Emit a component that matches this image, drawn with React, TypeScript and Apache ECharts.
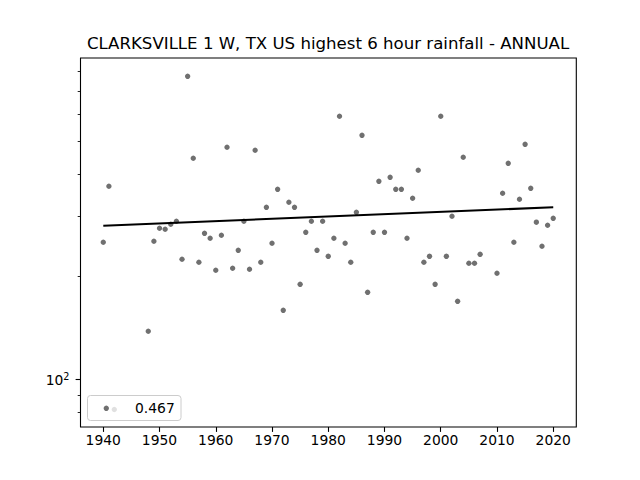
import React, { useEffect, useRef } from "react";
import * as echarts from "echarts";

const years = [1940,1941,1948,1949,1950,1951,1952,1953,1954,1955,1956,1957,1958,1959,1960,1961,1962,1963,1964,1965,1966,1967,1968,1969,1970,1971,1972,1973,1974,1975,1976,1977,1978,1979,1980,1981,1982,1983,1984,1985,1986,1987,1988,1989,1990,1991,1992,1993,1994,1995,1996,1997,1998,1999,2000,2001,2002,2003,2004,2005,2006,2007,2010,2011,2012,2013,2014,2015,2016,2017,2018,2019,2020];
const rainfall = [252.3,368.1,138.3,254.0,277.2,275.4,284.8,290.7,224.9,773.4,444.9,220.4,267.9,259.1,208.8,264.4,479.1,211.6,238.9,290.7,210.2,469.4,220.4,319.4,250.5,360.7,159.3,330.4,319.4,189.9,269.8,290.7,238.9,290.7,229.4,259.1,590.6,250.5,220.4,308.8,519.4,179.9,269.8,380.7,269.8,391.1,360.7,360.7,259.1,339.5,410.1,220.4,229.4,189.9,590.6,229.4,300.6,169.3,447.8,218.9,218.9,232.5,204.6,351.1,429.9,252.3,337.2,488.8,363.1,288.8,245.5,282.9,296.5];
const trendYears = [1940, 2020];
const trendValues = [282.1, 319.4];
const xTicks = [1940,1950,1960,1970,1980,1990,2000,2010,2020];
const yMajorTicks = [100];
const yMinorTicks = [80,90,200,300,400,500,600,700,800];
const titleText = "CLARKSVILLE 1 W, TX US highest 6 hour rainfall - ANNUAL";
const legendLabel = "0.467";
const FONT = "DejaVu Sans";

export default function App() {
  const ref = useRef<HTMLDivElement>(null);
  useEffect(() => {
    const chart = echarts.init(ref.current!, undefined, { renderer: "svg", width: 640, height: 480 });
    chart.setOption({
      animation: false,
      backgroundColor: "#fff",
      textStyle: { fontFamily: FONT },
      title: {
        text: titleText,
        left: 323,
        top: 30,
        textAlign: "center",
        textStyle: { fontFamily: FONT, fontSize: 16.6, fontWeight: "normal", color: "#000" },
      },
      grid: {
        left: 80.5,
        right: 63.7,
        top: 58,
        bottom: 53,
        show: true,
        borderColor: "#000",
        borderWidth: 1.1,
        backgroundColor: "transparent",
      },
      xAxis: {
        type: "value",
        min: 1935.95,
        max: 2024.1,
        splitLine: { show: false },
        axisLine: { show: false },
        axisTick: { show: true, length: 4.9, customValues: xTicks, lineStyle: { color: "#000", width: 1.1 } },
        axisLabel: { show: true, customValues: xTicks, margin: 6, color: "#000", fontFamily: FONT, fontSize: 13.89, formatter: (v: number) => String(v) },
      },
      yAxis: [
        {
          type: "log",
          logBase: 10,
          min: 72.44,
          max: 875.4,
          splitLine: { show: false },
          minorTick: { show: false },
          axisLine: { show: false },
          axisTick: { show: true, length: 4.9, customValues: yMajorTicks, lineStyle: { color: "#000", width: 1.1 } },
          axisLabel: {
            show: true,
            customValues: yMajorTicks,
            margin: 11,
            padding: [2, 0, 0, 0],
            color: "#000",
            fontFamily: FONT,
            fontSize: 13.89,
            formatter: () => "10{sup|2}",
            rich: { sup: { fontFamily: FONT, fontSize: 9.7, color: "#000", verticalAlign: "top", padding: [0, 0, 7, 0] } },
          },
        },
        {
          type: "log",
          logBase: 10,
          position: "left",
          min: 72.44,
          max: 875.4,
          splitLine: { show: false },
          minorTick: { show: false },
          axisLine: { show: false },
          axisLabel: { show: false },
          axisTick: { show: true, length: 2.8, customValues: yMinorTicks, lineStyle: { color: "#000", width: 0.85 } },
        },
      ],
      series: [
        {
          type: "scatter",
          symbolSize: 5.4,
          itemStyle: { color: "#000", opacity: 0.56 },
          data: years.map((y, i) => [y, rainfall[i]]),
          z: 2,
        },
        {
          type: "line",
          symbol: "none",
          lineStyle: { color: "#000", width: 2.1 },
          data: trendYears.map((y, i) => [y, trendValues[i]]),
          z: 3,
        },
      ],
      graphic: [
        {
          type: "rect",
          z: 10,
          shape: { x: 87.5, y: 395.5, width: 93.5, height: 25, r: 3 },
          style: { fill: "rgba(255,255,255,0.8)", stroke: "#ccc", lineWidth: 1 },
        },
        { type: "circle", z: 11, shape: { cx: 106.3, cy: 408.3, r: 2.7 }, style: { fill: "rgba(0,0,0,0.56)" } },
        { type: "circle", z: 11, shape: { cx: 114.3, cy: 409.5, r: 2.7 }, style: { fill: "rgba(0,0,0,0.12)" } },
        {
          type: "text",
          z: 11,
          x: 135,
          y: 400.5,
          style: { text: legendLabel, fill: "#000", font: `13.89px "${FONT}"` },
        },
      ],
    });
    return () => chart.dispose();
  }, []);
  return <div ref={ref} style={{ position: "absolute", left: 0, top: 0, width: 640, height: 480 }} />;
}
